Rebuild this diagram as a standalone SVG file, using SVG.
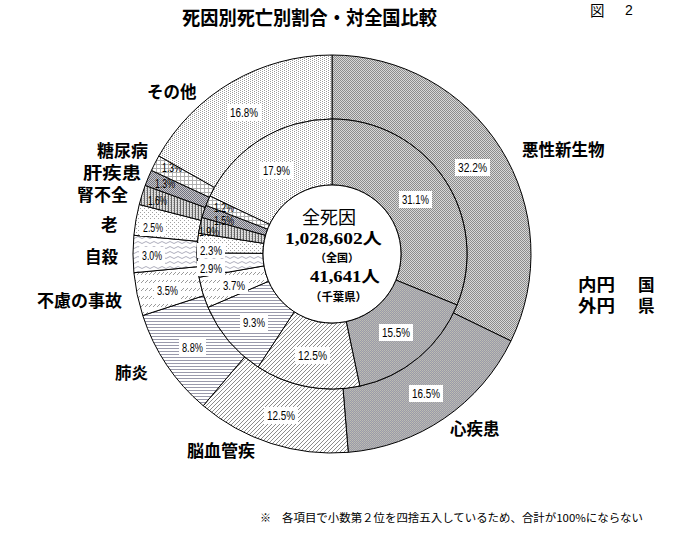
<svg xmlns="http://www.w3.org/2000/svg" width="681" height="560" viewBox="0 0 681 560">
<style>
.sl{stroke:#000;stroke-width:1;stroke-linejoin:round}
.pct{font-family:"Liberation Sans",Arial,sans-serif;font-size:12.5px;fill:#000}
.box{fill:#fff}
.cat{font-family:"Noto Sans CJK JP",sans-serif;font-weight:bold;font-size:16.5px;fill:#000}
.ctr{font-family:"Liberation Serif","Noto Sans CJK JP",serif;font-weight:bold;fill:#000}
.px{shape-rendering:crispEdges}
</style>
<defs>
<pattern id="pAku" width="2" height="2" patternUnits="userSpaceOnUse">
<rect class="px" width="2" height="2" fill="#d8d8d8"/><rect class="px" width="1" height="1" fill="#8c8c8c"/><rect class="px" x="1" y="1" width="1" height="1" fill="#8c8c8c"/>
</pattern>
<pattern id="pShin" width="2" height="2" patternUnits="userSpaceOnUse">
<rect class="px" width="2" height="2" fill="#9a9aaa"/><rect class="px" width="1" height="1" fill="#bebeb2"/><rect class="px" x="1" y="1" width="1" height="1" fill="#b6b6b0"/>
</pattern>
<pattern id="pNou" width="4" height="4" patternUnits="userSpaceOnUse">
<rect class="px" width="4" height="4" fill="#fff"/><rect class="px" x="3" y="0" width="1" height="1" fill="#8c8c8c"/><rect class="px" x="2" y="1" width="1" height="1" fill="#8c8c8c"/><rect class="px" x="1" y="2" width="1" height="1" fill="#8c8c8c"/><rect class="px" x="0" y="3" width="1" height="1" fill="#8c8c8c"/>
</pattern>
<pattern id="pHai" width="3" height="3" patternUnits="userSpaceOnUse">
<rect class="px" width="3" height="3" fill="#fff"/><rect class="px" width="3" height="1" fill="#9a9aac"/>
</pattern>
<pattern id="pFury" width="4" height="8" patternUnits="userSpaceOnUse">
<rect class="px" width="4" height="8" fill="#fff"/><rect class="px" x="3" y="0" width="1" height="1" fill="#9a9a9a"/><rect class="px" x="2" y="1" width="1" height="1" fill="#9a9a9a"/><rect class="px" x="1" y="2" width="1" height="1" fill="#9a9a9a"/>
</pattern>
<pattern id="pJisatsu" width="8" height="5" patternUnits="userSpaceOnUse">
<rect width="8" height="5" fill="#fff"/><path d="M0,2.5 Q2,0.5 4,2.5 T8,2.5" fill="none" stroke="#a4a4b4" stroke-width="0.9"/>
</pattern>
<pattern id="pRou" width="4" height="4" patternUnits="userSpaceOnUse">
<rect class="px" width="4" height="4" fill="#fff"/><rect class="px" width="1" height="1" fill="#a0a0a0"/><rect class="px" x="2" y="2" width="1" height="1" fill="#a0a0a0"/>
</pattern>
<pattern id="pJin" width="3" height="2" patternUnits="userSpaceOnUse">
<rect class="px" width="3" height="2" fill="#dcdcdc"/><rect class="px" width="1" height="2" fill="#666"/><rect class="px" x="2" y="0" width="1" height="1" fill="#aaa"/>
</pattern>
<pattern id="pKan" width="2" height="2" patternUnits="userSpaceOnUse">
<rect class="px" width="2" height="2" fill="#c8c8c8"/><rect class="px" width="1" height="1" fill="#707080"/><rect class="px" x="1" y="1" width="1" height="1" fill="#707080"/>
</pattern>
<pattern id="pTou" width="4" height="4" patternUnits="userSpaceOnUse">
<rect class="px" width="4" height="4" fill="#fff"/><rect class="px" width="4" height="1" fill="#b0b0b0"/><rect class="px" width="1" height="4" fill="#b0b0b0"/>
</pattern>
<pattern id="pSono" width="4" height="2" patternUnits="userSpaceOnUse">
<rect class="px" width="4" height="2" fill="#fff"/><rect class="px" width="1" height="1" fill="#9a9a9a"/><rect class="px" x="2" y="1" width="1" height="1" fill="#9a9a9a"/>
</pattern>
</defs>
<rect width="681" height="560" fill="#fff"/>

<g id="title">
<text x="182" y="25" class="cat" style="font-size:19.5px" textLength="255" lengthAdjust="spacingAndGlyphs">死因別死亡別割合・対全国比較</text>
<text x="590" y="16" style="font-family:'Noto Sans CJK JP',sans-serif;font-size:14.5px">図</text>
<text x="625" y="15" style="font-family:'Liberation Sans',sans-serif;font-size:14px">2</text>
</g>

<g id="connectors"></g>

<g id="akusei">
<path class="sl" fill="url(#pAku)" d="M332,55 A199,199 0 0 1 510.98,340.98 L453.42,313.01 A135,135 0 0 0 332,119 Z"/>
<path class="sl" fill="url(#pAku)" d="M332,119 A135,135 0 0 1 457.01,304.97 L395.89,280.05 A69,69 0 0 0 332,185 Z"/>
<rect class="box" x="455" y="159" width="35" height="17"/><text class="pct" x="458" y="172" textLength="29" lengthAdjust="spacingAndGlyphs">32.2%</text>
<rect class="box" x="399" y="191" width="33" height="17"/><text class="pct" x="402" y="204" textLength="27" lengthAdjust="spacingAndGlyphs">31.1%</text>
<text class="cat" x="522" y="156">悪性新生物</text>
</g>

<g id="shinshikkan">
<path class="sl" fill="url(#pShin)" d="M510.98,340.98 A199,199 0 0 1 348.24,452.34 L343.01,388.55 A135,135 0 0 0 453.42,313.01 Z"/>
<path class="sl" fill="url(#pShin)" d="M457.01,304.97 A135,135 0 0 1 359.84,386.10 L346.23,321.52 A69,69 0 0 0 395.89,280.05 Z"/>
<rect class="box" x="409" y="385" width="34" height="17"/><text class="pct" x="412" y="398" textLength="28" lengthAdjust="spacingAndGlyphs">16.5%</text>
<rect class="box" x="379" y="324" width="34" height="17"/><text class="pct" x="382" y="337" textLength="28" lengthAdjust="spacingAndGlyphs">15.5%</text>
<text class="cat" x="450" y="435">心疾患</text>
</g>

<g id="noukekkan">
<path class="sl" fill="url(#pNou)" d="M348.24,452.34 A199,199 0 0 1 203.23,405.73 L244.65,356.94 A135,135 0 0 0 343.01,388.55 Z"/>
<path class="sl" fill="url(#pNou)" d="M359.84,386.10 A135,135 0 0 1 258.10,366.98 L294.23,311.74 A69,69 0 0 0 346.23,321.52 Z"/>
<rect class="box" x="264" y="407" width="34" height="17"/><text class="pct" x="267" y="420" textLength="28" lengthAdjust="spacingAndGlyphs">12.5%</text>
<rect class="box" x="295" y="347" width="35" height="17"/><text class="pct" x="298" y="360" textLength="29" lengthAdjust="spacingAndGlyphs">12.5%</text>
<text class="cat" x="187" y="457" style="font-size:17px">脳血管疾</text>
</g>

<g id="haien">
<path class="sl" fill="url(#pHai)" d="M203.23,405.73 A199,199 0 0 1 142.74,315.49 L203.61,295.72 A135,135 0 0 0 244.65,356.94 Z"/>
<path class="sl" fill="url(#pHai)" d="M258.10,366.98 A135,135 0 0 1 207.98,307.33 L268.61,281.26 A69,69 0 0 0 294.23,311.74 Z"/>
<rect class="box" x="179" y="339" width="27" height="17"/><text class="pct" x="182" y="352" textLength="21" lengthAdjust="spacingAndGlyphs">8.8%</text>
<rect class="box" x="240" y="314" width="28" height="17"/><text class="pct" x="243" y="327" textLength="22" lengthAdjust="spacingAndGlyphs">9.3%</text>
<text class="cat" x="115" y="379">肺炎</text>
</g>

<g id="furyo">
<path class="sl" fill="url(#pFury)" d="M142.74,315.49 A199,199 0 0 1 133.88,272.73 L197.60,266.70 A135,135 0 0 0 203.61,295.72 Z"/>
<path class="sl" fill="url(#pFury)" d="M207.98,307.33 A135,135 0 0 1 199.02,277.26 L264.03,265.89 A69,69 0 0 0 268.61,281.26 Z"/>
<rect class="box" x="154" y="282" width="27" height="17"/><text class="pct" x="157" y="295" textLength="21" lengthAdjust="spacingAndGlyphs">3.5%</text>
<rect class="box" x="220" y="277" width="28" height="17"/><text class="pct" x="223" y="290" textLength="22" lengthAdjust="spacingAndGlyphs">3.7%</text>
<text class="cat" x="37" y="307" textLength="85" lengthAdjust="spacingAndGlyphs">不慮の事故</text>
</g>

<g id="jisatsu">
<path class="sl" fill="url(#pJisatsu)" d="M133.88,272.73 A199,199 0 0 1 133.88,235.27 L197.60,241.30 A135,135 0 0 0 197.60,266.70 Z"/>
<path class="sl" fill="url(#pJisatsu)" d="M199.02,277.26 A135,135 0 0 1 197.01,252.73 L263.00,253.35 A69,69 0 0 0 264.03,265.89 Z"/>
<rect class="box" x="139" y="247" width="26" height="17"/><text class="pct" x="142" y="260" textLength="20" lengthAdjust="spacingAndGlyphs">3.0%</text>
<rect class="box" x="197" y="261" width="28" height="15"/><text class="pct" x="200" y="273" textLength="22" lengthAdjust="spacingAndGlyphs">2.9%</text>
<text class="cat" x="85" y="263">自殺</text>
</g>

<g id="rousui">
<path class="sl" fill="url(#pRou)" d="M133.88,235.27 A199,199 0 0 1 139.25,204.51 L201.24,220.43 A135,135 0 0 0 197.60,241.30 Z"/>
<path class="sl" fill="url(#pRou)" d="M197.01,252.73 A135,135 0 0 1 198.60,233.25 L263.82,243.40 A69,69 0 0 0 263.00,253.35 Z"/>
<rect class="box" x="140" y="219" width="26" height="17"/><text class="pct" x="143" y="232" textLength="20" lengthAdjust="spacingAndGlyphs">2.5%</text>
<rect class="box" x="197" y="243" width="28" height="15"/><text class="pct" x="200" y="255" textLength="22" lengthAdjust="spacingAndGlyphs">2.3%</text>
<text class="cat" x="101" y="231">老</text>
</g>

<g id="jinfuzen">
<path class="sl" fill="url(#pJin)" d="M139.25,204.51 A199,199 0 0 1 145.18,185.42 L205.27,207.47 A135,135 0 0 0 201.24,220.43 Z"/>
<path class="sl" fill="url(#pJin)" d="M198.60,233.25 A135,135 0 0 1 202.03,217.49 L265.57,235.34 A69,69 0 0 0 263.82,243.40 Z"/>
<text class="pct" x="148" y="205" textLength="19" lengthAdjust="spacingAndGlyphs">1.6%</text>
<text class="pct" x="199" y="236" textLength="20" lengthAdjust="spacingAndGlyphs">1.9%</text>
<text class="cat" x="77" y="201" textLength="51" lengthAdjust="spacingAndGlyphs">腎不全</text>
</g>

<g id="kanshikkan">
<path class="sl" fill="url(#pKan)" d="M145.18,185.42 A199,199 0 0 1 151.41,170.40 L209.49,197.29 A135,135 0 0 0 205.27,207.47 Z"/>
<path class="sl" fill="url(#pKan)" d="M202.03,217.49 A135,135 0 0 1 206.05,205.40 L267.63,229.16 A69,69 0 0 0 265.57,235.34 Z"/>
<text class="pct" x="155" y="188" textLength="20" lengthAdjust="spacingAndGlyphs">1.3%</text>
<text class="pct" x="214" y="225" textLength="20" lengthAdjust="spacingAndGlyphs">1.5%</text>
<text class="cat" x="83" y="179" textLength="58" lengthAdjust="spacingAndGlyphs">肝疾患</text>
</g>

<g id="tounyoubyou">
<path class="sl" fill="url(#pTou)" d="M151.41,170.40 A199,199 0 0 1 158.83,155.94 L214.52,187.48 A135,135 0 0 0 209.49,197.29 Z"/>
<path class="sl" fill="url(#pTou)" d="M206.05,205.40 A135,135 0 0 1 210.08,196.03 L269.68,224.37 A69,69 0 0 0 267.63,229.16 Z"/>
<text class="pct" x="162" y="172" textLength="20" lengthAdjust="spacingAndGlyphs">1.3%</text>
<text class="pct" x="214" y="212" textLength="20" lengthAdjust="spacingAndGlyphs">1.2%</text>
<text class="cat" x="97" y="157" textLength="51" lengthAdjust="spacingAndGlyphs">糖尿病</text>
</g>

<g id="sonota">
<path class="sl" fill="url(#pSono)" d="M158.83,155.94 A199,199 0 0 1 332,55 L332,119 A135,135 0 0 0 214.52,187.48 Z"/>
<path class="sl" fill="url(#pSono)" d="M210.08,196.03 A135,135 0 0 1 332,119 L332,185 A69,69 0 0 0 269.68,224.37 Z"/>
<rect class="box" x="227" y="104" width="34" height="17"/><text class="pct" x="230" y="117" textLength="28" lengthAdjust="spacingAndGlyphs">16.8%</text>
<rect class="box" x="260" y="162" width="33" height="17"/><text class="pct" x="263" y="175" textLength="27" lengthAdjust="spacingAndGlyphs">17.9%</text>
<text class="cat" x="147" y="98">その他</text>
</g>

<g id="center">
<circle cx="332" cy="254" r="69" fill="#fff" stroke="#000" stroke-width="1"/>
<text x="302" y="224" style="font-family:'Noto Sans CJK JP',sans-serif;font-size:18px">全死因</text>
<text class="ctr" x="285" y="244" style="font-size:16px" textLength="97" lengthAdjust="spacingAndGlyphs">1,028,602人</text>
<text x="315" y="262" style="font-family:'Noto Sans CJK JP',sans-serif;font-weight:bold;font-size:11px">（全国）</text>
<text class="ctr" x="310" y="282" style="font-size:16px" textLength="70" lengthAdjust="spacingAndGlyphs">41,641人</text>
<text x="310" y="301" style="font-family:'Noto Sans CJK JP',sans-serif;font-weight:bold;font-size:11.4px">（千葉県）</text>
</g>

<g id="legend">
<text class="cat" x="578" y="291" style="font-size:16.5px" textLength="37" lengthAdjust="spacingAndGlyphs">内円</text>
<text class="cat" x="638" y="291" style="font-size:16.5px">国</text>
<text class="cat" x="578" y="312" style="font-size:16.5px" textLength="37" lengthAdjust="spacingAndGlyphs">外円</text>
<text class="cat" x="638" y="312" style="font-size:16.5px">県</text>
</g>

<g id="footnote">
<text y="522" style="font-family:'Noto Sans CJK JP',sans-serif;font-size:11px"><tspan x="260">※</tspan><tspan x="282" textLength="361" lengthAdjust="spacingAndGlyphs">各項目で小数第２位を四捨五入しているため、合計が100%にならない</tspan></text>
</g>
</svg>
